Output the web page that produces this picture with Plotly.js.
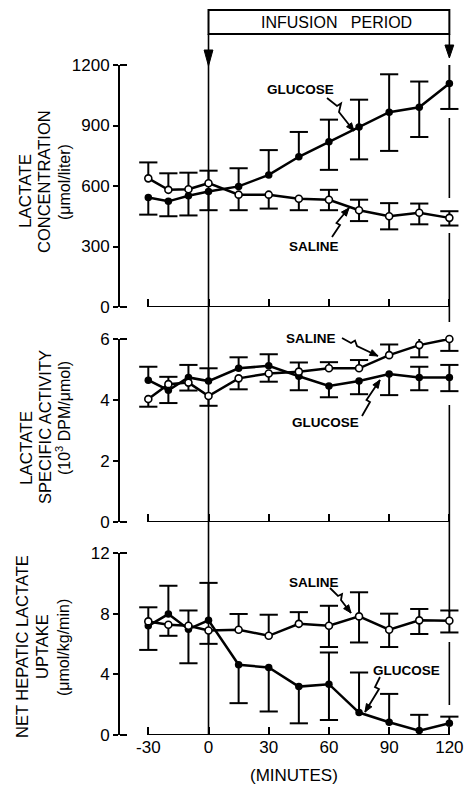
<!DOCTYPE html>
<html>
<head>
<meta charset="utf-8">
<script src="https://cdn.plot.ly/plotly-3.0.1.min.js"></script>
<style>
html,body{margin:0;padding:0;background:#fff;}
#chart{width:471px;height:785px;}
</style>
</head>
<body>
<div id="chart"></div>
<script>
// ---- data ----
const minutes = [-30, -20, -10, 0, 15, 30, 45, 60, 75, 90, 105, 120];
const xTicks = [-30, 0, 30, 60, 90, 120];

// Lactate concentration (µmol/liter)
const glucoseConc      = [543, 524, 552, 573, 598, 655, 745, 819, 892, 966, 990, 1108];
const glucoseConcPlus  = [0, 0, 0, 0, 90, 123, 123, 110, 136, 188, 128, 108];
const glucoseConcMinus = [85, 74, 98, 93, 0, 0, 0, 139, 160, 192, 147, 126];
const salineConc       = [638, 581, 584, 614, 557, 557, 537, 532, 480, 450, 467, 442];
const salineConcPlus   = [79, 82, 82, 62, 0, 0, 0, 49, 52, 65, 46, 33];
const salineConcMinus  = [0, 0, 0, 0, 77, 69, 57, 52, 54, 65, 57, 38];
const concTicks = [0, 300, 600, 900, 1200];

// Lactate specific activity (10^3 DPM/µmol)
const glucoseSA      = [4.65, 4.32, 4.74, 4.62, 5.04, 5.12, 4.78, 4.46, 4.62, 4.85, 4.74, 4.74];
const glucoseSAPlus  = [0.44, 0, 0.41, 0.42, 0.36, 0.38, 0, 0, 0, 0, 0.35, 0.41];
const glucoseSAMinus = [0, 0.42, 0, 0, 0, 0, 0.46, 0.37, 0.43, 0.69, 0.42, 0.45];
const salineSA       = [4.03, 4.52, 4.57, 4.13, 4.71, 4.87, 4.93, 5.04, 5.04, 5.47, 5.80, 6.00];
const salineSAPlus   = [0, 0.24, 0, 0, 0, 0, 0.30, 0.20, 0.27, 0.35, 0.51, 0.38];
const salineSAMinus  = [0.25, 0, 0.26, 0.32, 0.36, 0.27, 0, 0, 0, 0, 0.40, 0.39];
const saTicks = [0, 2, 4, 6];

// Net hepatic lactate uptake (µmol/kg/min)
const glucoseUp      = [7.20, 7.97, 6.98, 7.56, 4.63, 4.45, 3.19, 3.35, 1.48, 0.84, 0.29, 0.77];
const glucoseUpPlus  = [0, 1.87, 0, 2.47, 0, 0, 0, 2.09, 2.64, 1.87, 1.04, 0.44];
const glucoseUpMinus = [1.59, 0, 2.25, 0, 2.53, 2.90, 2.42, 2.36, 0, 0, 0, 0];
const salineUp       = [7.49, 7.27, 7.20, 6.89, 6.94, 6.54, 7.33, 7.20, 7.82, 6.94, 7.56, 7.53];
const salineUpPlus   = [0.93, 0, 1.01, 0, 1.04, 1.39, 0.77, 1.32, 1.59, 1.06, 0.75, 0.68];
const salineUpMinus  = [0, 0.73, 0, 0.88, 0, 0, 0, 1.40, 1.72, 1.14, 0.90, 0.77];
const upTicks = [0, 4, 8, 12];

// ---- helpers ----
const W = 471, H = 785;
const FONT = 'Liberation Sans, Arial, sans-serif';
const px = x => x / W;
const py = y => 1 - y / H;

function capsTrace(xs, ys, plus, minus, xa, ya) {
  const cx = [], cy = [];
  xs.forEach((x, i) => {
    if (plus[i] > 0) { cx.push(x); cy.push(ys[i] + plus[i]); }
    if (minus[i] > 0) { cx.push(x); cy.push(ys[i] - minus[i]); }
  });
  return {x: cx, y: cy, xaxis: xa, yaxis: ya, mode: 'markers', type: 'scatter',
    hoverinfo: 'skip', showlegend: false, cliponaxis: false,
    marker: {symbol: 'line-ew', size: 13, color: 'black', line: {color: 'black', width: 2}}};
}
function seriesTrace(ys, plus, minus, open, xa, ya) {
  return {x: minutes, y: ys, xaxis: xa, yaxis: ya, type: 'scatter', mode: 'lines+markers',
    showlegend: false, cliponaxis: false,
    line: {color: 'black', width: 2.5},
    marker: open ? {symbol: 'circle', size: 7, color: 'white', line: {color: 'black', width: 1.6}}
                 : {symbol: 'circle', size: 7.5, color: 'black'},
    error_y: {type: 'data', symmetric: false, array: plus, arrayminus: minus,
              width: 0, thickness: 2, color: 'black'}};
}

const data = [
  capsTrace(minutes, glucoseConc, glucoseConcPlus, glucoseConcMinus, 'x', 'y'),
  capsTrace(minutes, salineConc, salineConcPlus, salineConcMinus, 'x', 'y'),
  seriesTrace(glucoseConc, glucoseConcPlus, glucoseConcMinus, false, 'x', 'y'),
  seriesTrace(salineConc, salineConcPlus, salineConcMinus, true, 'x', 'y'),

  capsTrace(minutes, glucoseSA, glucoseSAPlus, glucoseSAMinus, 'x2', 'y2'),
  capsTrace(minutes, salineSA, salineSAPlus, salineSAMinus, 'x2', 'y2'),
  seriesTrace(glucoseSA, glucoseSAPlus, glucoseSAMinus, false, 'x2', 'y2'),
  seriesTrace(salineSA, salineSAPlus, salineSAMinus, true, 'x2', 'y2'),

  capsTrace(minutes, glucoseUp, glucoseUpPlus, glucoseUpMinus, 'x3', 'y3'),
  capsTrace(minutes, salineUp, salineUpPlus, salineUpMinus, 'x3', 'y3'),
  seriesTrace(glucoseUp, glucoseUpPlus, glucoseUpMinus, false, 'x3', 'y3'),
  seriesTrace(salineUp, salineUpPlus, salineUpMinus, true, 'x3', 'y3'),
];

// ---- axes ----
const xDomain = [px(120), px(460)];
const xRange = [-44.1, 125.3];
function xAxis(anchor, labels) {
  return {domain: xDomain, range: xRange, anchor: anchor, tickvals: xTicks,
    ticktext: xTicks.map(String), ticks: 'inside', ticklen: 8, tickwidth: 2, tickcolor: 'black',
    showline: false, zeroline: false, showgrid: false, showticklabels: labels,
    tickfont: {family: FONT, size: 17, color: 'black'}, fixedrange: true};
}
function yAxis(anchor, top, bottom, range, ticks) {
  return {domain: [py(bottom), py(top)], range: range, anchor: anchor, tickvals: ticks,
    ticktext: ticks.map(String), ticks: 'outside', ticklen: 5, tickwidth: 2, tickcolor: 'black',
    showline: true, linewidth: 2, linecolor: 'black', zeroline: false, showgrid: false,
    tickfont: {family: FONT, size: 17, color: 'black'}, fixedrange: true};
}
const panels = [ {top: 65, bottom: 307}, {top: 339, bottom: 522}, {top: 553, bottom: 735} ];

// ---- decorations ----
const shapes = [];
function lineShape(o) { shapes.push(Object.assign({type: 'line', line: {color: 'black', width: 2}, layer: 'below'}, o)); }
function pathPx(pts) {
  return pts.map((p, i) => (i ? 'L' : 'M') + px(p[0]).toFixed(5) + ',' + py(p[1]).toFixed(5)).join(' ');
}
function arrowHead(a, b, len, half) {
  const dx = b[0] - a[0], dy = b[1] - a[1], d = Math.hypot(dx, dy);
  const ux = dx / d, uy = dy / d;
  const bx = b[0] - ux * len, by = b[1] - uy * len;
  const p1 = [bx - uy * half, by + ux * half], p2 = [bx + uy * half, by - ux * half];
  return pathPx([b, p1, p2]) + ' Z';
}
function leader(pts) {
  shapes.push({type: 'path', xref: 'paper', yref: 'paper', path: pathPx(pts),
    line: {color: 'black', width: 1.8}});
  shapes.push({type: 'path', xref: 'paper', yref: 'paper',
    path: arrowHead(pts[pts.length - 2], pts[pts.length - 1], 8, 3.2),
    fillcolor: 'black', line: {color: 'black', width: 1}});
}

// infusion bracket
shapes.push({type: 'rect', xref: 'x', yref: 'paper', x0: 0, x1: 120, y0: py(34), y1: py(10),
  line: {color: 'black', width: 2}, fillcolor: 'rgba(0,0,0,0)'});
// start-of-infusion line (x = 0)
lineShape({xref: 'x', yref: 'paper', x0: 0, x1: 0, y0: py(34), y1: py(735), line: {color: 'black', width: 1.6}});
shapes.push({type: 'path', xref: 'x', yref: 'paper',
  path: 'M -2.2,' + py(50) + ' L 2.2,' + py(50) + ' L 0,' + py(66) + ' Z', fillcolor: 'black', line: {color: 'black', width: 1}});
// end-of-infusion line (x = 120), broken around data
[[34, 47], [118, 198], [233, 322], [405, 612], [642, 705]].forEach(s =>
  lineShape({xref: 'x', yref: 'paper', x0: 120, x1: 120, y0: py(s[0]), y1: py(s[1]), line: {color: 'black', width: 1.6}}));
shapes.push({type: 'path', xref: 'x', yref: 'paper',
  path: 'M 117.8,' + py(45) + ' L 122.2,' + py(45) + ' L 120,' + py(58) + ' Z', fillcolor: 'black', line: {color: 'black', width: 1}});

// panel baselines and y-axis end caps
['y', 'y2', 'y3'].forEach((ya, i) => {
  const xa = i === 0 ? 'x' : 'x' + (i + 1);
  lineShape({xref: xa, yref: ya, x0: -30, x1: 120, y0: 0, y1: 0});
  const p = panels[i];
  lineShape({xref: 'paper', yref: 'paper', x0: px(120), x1: px(127), y0: py(p.top), y1: py(p.top)});
  lineShape({xref: 'paper', yref: 'paper', x0: px(120), x1: px(127), y0: py(p.bottom), y1: py(p.bottom)});
});

// squiggly leader arrows
leader([[327, 98], [337, 106], [341, 103.5], [339, 112], [354, 131]]);     // top GLUCOSE
leader([[332, 237], [340, 225], [336.5, 223], [349, 208]]);                 // top SALINE
leader([[342, 338], [351, 343], [355, 340.5], [357, 346], [378, 356]]);     // middle SALINE
leader([[362, 416], [370, 402], [366.5, 400], [380, 380]]);                 // middle GLUCOSE
leader([[330, 588], [338, 596], [342, 594], [341, 600], [351, 613]]);       // bottom SALINE
leader([[380, 677], [375, 687], [379, 689], [365, 712]]);                   // bottom GLUCOSE

// ---- text ----
const annotations = [];
function txt(text, x, y, size, opts) {
  annotations.push(Object.assign({text: text, xref: 'paper', yref: 'paper', x: px(x), y: py(y),
    xanchor: 'center', yanchor: 'middle', showarrow: false,
    font: {family: FONT, size: size, color: 'black'}}, opts || {}));
}
const rot = {textangle: -90};
txt('INFUSION&nbsp;&nbsp;&nbsp;PERIOD', 336, 23, 16);
txt('<b>GLUCOSE</b>', 300, 90, 13.5);
txt('<b>SALINE</b>', 314, 247, 13.5);
txt('<b>SALINE</b>', 311, 338, 13.5);
txt('<b>GLUCOSE</b>', 325, 422, 13.5);
txt('<b>SALINE</b>', 314, 582, 13.5);
txt('<b>GLUCOSE</b>', 406, 670, 13.5);

txt('LACTATE', 26, 191, 17, rot);
txt('CONCENTRATION', 44, 182, 16.5, rot);
txt('(μmol/liter)', 65, 182, 16, rot);

txt('LACTATE', 26, 448, 17, rot);
txt('SPECIFIC ACTIVITY', 45, 427, 16.5, rot);
txt('(10<sup>3</sup> DPM/μmol)', 63, 418, 16, rot);

txt('NET HEPATIC LACTATE', 22, 647, 16.5, rot);
txt('UPTAKE', 42, 647, 16.5, rot);
txt('(μmol/kg/min)', 63, 648, 16, rot);

txt('(MINUTES)', 294, 775, 17);

const layout = {
  width: W, height: H, margin: {l: 0, r: 0, t: 0, b: 0, pad: 0},
  paper_bgcolor: 'white', plot_bgcolor: 'rgba(0,0,0,0)', showlegend: false,
  font: {family: FONT, color: 'black'},
  xaxis: xAxis('y', false),
  xaxis2: xAxis('y2', false),
  xaxis3: xAxis('y3', true),
  yaxis: yAxis('x', panels[0].top, panels[0].bottom, [0, 1200], concTicks),
  yaxis2: yAxis('x2', panels[1].top, panels[1].bottom, [0, 6], saTicks),
  yaxis3: yAxis('x3', panels[2].top, panels[2].bottom, [0, 12], upTicks),
  shapes: shapes, annotations: annotations
};

Plotly.newPlot('chart', data, layout, {displayModeBar: false, staticPlot: true});
</script>
</body>
</html>
